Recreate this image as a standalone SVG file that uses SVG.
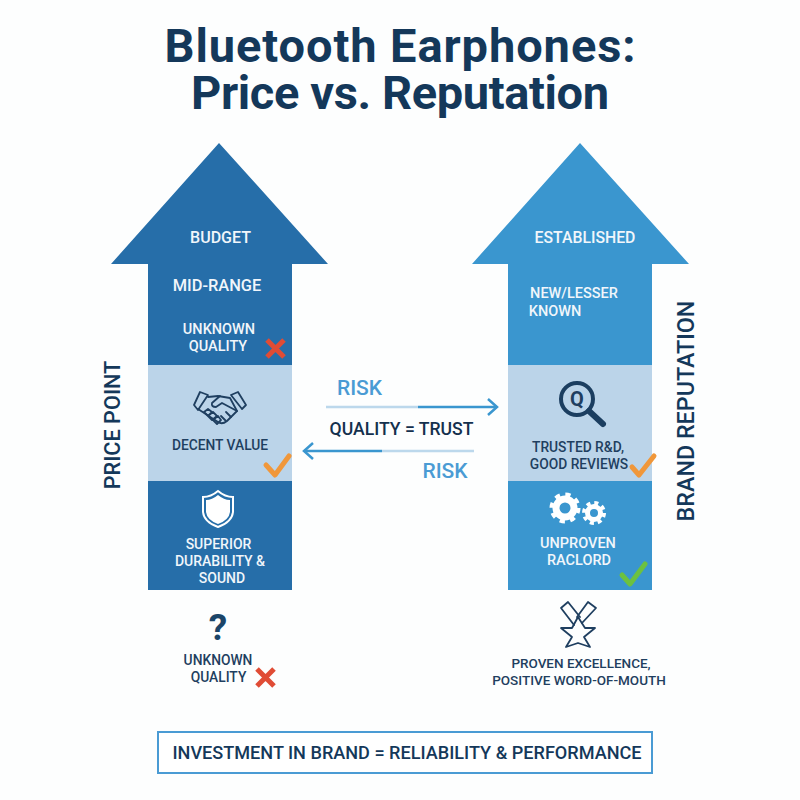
<svg xmlns="http://www.w3.org/2000/svg" width="800" height="800" viewBox="0 0 800 800">
<style>
text{font-family:Roboto,"Liberation Sans",sans-serif;text-anchor:middle}
.t{font-size:47px;font-weight:700;fill:#14385a}
.w{font-size:14.5px;font-weight:500;fill:#f1f6fb}
.d{font-size:13.8px;font-weight:500;fill:#1f3f60}
.ax{font-weight:500;fill:#14385a}
.r{font-size:21px;font-weight:500;fill:#4a9bd4}
.lic{fill:none;stroke:#1f3f60;stroke-width:1.8;stroke-linejoin:round;stroke-linecap:round}
.wic{fill:none;stroke:#fff;stroke-width:2}
.x{fill:none;stroke:#e04c35;stroke-width:5}
.c{fill:none;stroke:#f0973a;stroke-width:5;stroke-linecap:round;stroke-linejoin:round}
</style>
<rect width="800" height="800" fill="#fdfefe"/>
<text class="t" x="400" y="62" textLength="471" lengthAdjust="spacing">Bluetooth Earphones:</text>
<text class="t" x="400" y="109" textLength="418" lengthAdjust="spacing">Price vs. Reputation</text>
<g id="left-arrow">
<path d="M219 143L328 264H292V365H148V264H111Z" fill="#266ea9"/>
<rect x="148" y="365" width="144" height="116" fill="#bbd4e9"/>
<path d="M148 481H292V590H148Z" fill="#266ea9"/>
<text class="w" x="220.500" y="243" style="font-size:16px">BUDGET</text>
<text class="w" x="217" y="291" style="font-size:16.400px">MID-RANGE</text>
<text class="w" x="219" y="334">UNKNOWN</text>
<text class="w" x="218" y="351">QUALITY</text>
<path class="x" d="M267 340L284 357M284 340L267 357"/>
<g class="lic"><path d="M200 392L208 395L198 410L194 405Z"/><path d="M238 392L246 405L242 409L231 395Z"/><path d="M208 397L218 396L230 398L237 411L227 421Q222 425 218 422L198 409"/><path d="M220 396L212 403Q211 407 216 407L222 403L237 411"/><path d="M204 412L208 409L212 412L208 416ZM208 416L213 412L217 416L212 420ZM213 420L218 416L221 420L217 424Z"/><path d="M226 412L231 417M221 416L226 421"/></g>
<text class="d" x="220" y="450">DECENT VALUE</text>
<path class="c" d="M266 465L275 475L289 456"/>
<path class="wic" d="M218 491Q225 497 233 497V512Q232 522 218 527Q204 522 203 512V497Q211 497 218 491Z"/>
<path fill="#fff" d="M218 495Q224 500 230 500V512Q229 520 218 524Q207 520 206 512V500Q212 500 218 495Z"/>
<text class="w" x="218.500" y="549" style="font-size:14px">SUPERIOR</text>
<text class="w" x="220" y="566" style="font-size:14px">DURABILITY &amp;</text>
<text class="w" x="222" y="583" style="font-size:14px">SOUND</text>
</g>
<g id="right-arrow">
<path d="M580 143L689 264H652V365H508V264H472Z" fill="#3a96cf"/>
<rect x="508" y="365" width="144" height="116" fill="#bbd4e9"/>
<path d="M508 481H652V590H508Z" fill="#3a96cf"/>
<text class="w" x="585" y="243" style="font-size:15.800px">ESTABLISHED</text>
<text class="w" x="574" y="298">NEW/LESSER</text>
<text class="w" x="555" y="316">KNOWN</text>
<g fill="none" stroke="#1b3e60"><circle cx="577" cy="399" r="16" stroke-width="4"/><path d="M589 411L603 424" stroke-width="6" stroke-linecap="round"/></g>
<text x="577" y="406" style="font-size:20px;font-weight:700;fill:#1f3f60">Q</text>
<text class="d" x="578" y="452">TRUSTED R&amp;D,</text>
<text class="d" x="579" y="469">GOOD REVIEWS</text>
<path class="c" d="M632 467L639 475L654 456"/>
<g fill="none" stroke="#fff"><circle cx="565" cy="508" r="9" stroke-width="7"/><circle cx="565" cy="508" r="13" stroke-width="5" stroke-dasharray="5 5.200"/><circle cx="594" cy="513" r="6.500" stroke-width="5"/><circle cx="594" cy="513" r="10" stroke-width="4" stroke-dasharray="4 3.850"/></g>
<text class="w" x="578" y="548">UNPROVEN</text>
<text class="w" x="579" y="565">RACLORD</text>
<path class="c" d="M622 575L630 584L645 564" style="stroke:#6cc13f"/>
</g>
<g id="price-axis"><text class="ax" style="font-size:21.700px" transform="translate(120 425) rotate(-90)">PRICE POINT</text></g>
<g id="brand-axis"><text class="ax" style="font-size:23.300px" transform="translate(694 411) rotate(-90)">BRAND REPUTATION</text></g>
<g id="connectors" fill="none" stroke-width="2.500">
<path d="M326 407H418" stroke="#bcd8ec"/><path d="M418 407H497" stroke="#3a96cf"/><path d="M488 399L497 407L488 415" stroke="#3a96cf"/>
<path d="M474 451H382" stroke="#bcd8ec"/><path d="M382 451H304" stroke="#3a96cf"/><path d="M313 443L304 451L313 459" stroke="#3a96cf"/>
</g>
<g id="risk-top"><text class="r" x="359.500" y="395">RISK</text></g>
<g id="centre"><text x="401.500" y="435" style="font-size:17.600px;font-weight:500;fill:#14304d">QUALITY = TRUST</text></g>
<g id="risk-bottom"><text class="r" x="445" y="478">RISK</text></g>
<g id="below-left">
<text x="218" y="640" style="font-size:37px;font-weight:700;fill:#1b4568">?</text>
<text class="d" x="218" y="665">UNKNOWN</text>
<text class="d" x="218.500" y="682">QUALITY</text>
<path class="x" d="M257 669L274 686M274 669L257 686"/>
</g>
<g id="below-right">
<path class="lic" d="M574 625L561 608L568 602L580 617M582 623L596 608L588 602L577 617"/>
<path class="lic" d="M578 617L585 628L595 628L584 637L590 647L578 643L566 647L572 637L561 628L572 628Z"/>
<text class="d" x="581" y="668" style="font-size:13.500px">PROVEN EXCELLENCE,</text>
<text class="d" x="579" y="685" style="font-size:13.500px">POSITIVE WORD-OF-MOUTH</text>
</g>
<g id="footer">
<rect x="158" y="732" width="494" height="41" fill="#fff" stroke="#4a9bd4" stroke-width="2"/>
<text x="407" y="759" style="font-size:18.100px;font-weight:500;fill:#14385a">INVESTMENT IN BRAND = RELIABILITY &amp; PERFORMANCE</text>
</g>
</svg>
